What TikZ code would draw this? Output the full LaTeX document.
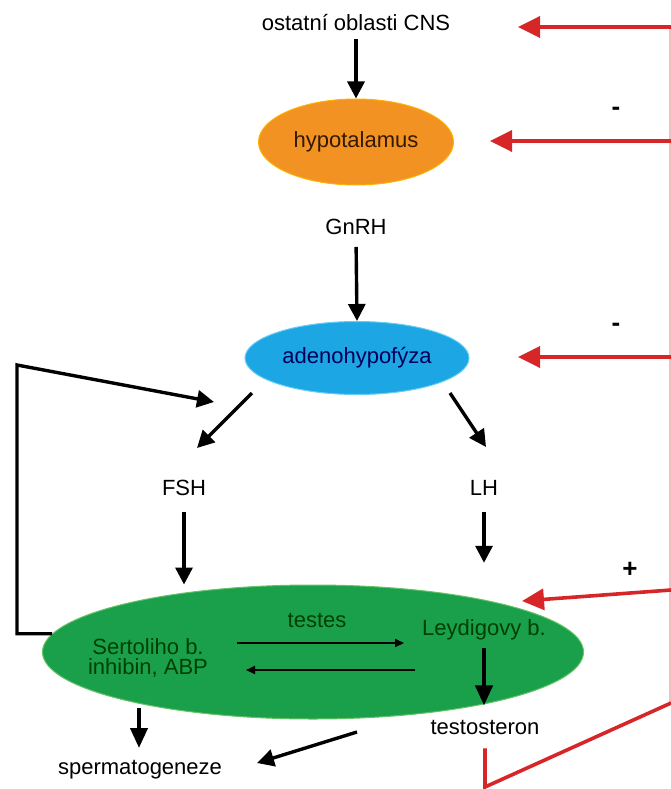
\documentclass[tikz,border=0pt]{standalone}
\usepackage{fontspec}
\setmainfont{Liberation Sans}
\usetikzlibrary{arrows.meta,shapes.geometric,positioning}

\definecolor{hypoorange}{RGB}{242,146,34}
\definecolor{adenoblue}{RGB}{28,166,228}
\definecolor{testgreen}{RGB}{26,160,74}
\definecolor{fbred}{RGB}{214,38,40}

\begin{document}
\begin{tikzpicture}[
    x=1pt,
    y=-1pt,
    every node/.style={font=\fontsize{22}{20}\selectfont, inner sep=2pt},
    organ/.style={ellipse, inner sep=0pt},
    sign/.style={font=\fontsize{26}{26}\selectfont\bfseries},
    arr/.style={-{Triangle[length=17pt,width=17pt]}, line width=3.4pt},
    fatarr/.style={-{Triangle[length=20pt,width=17pt]}, line width=4pt},
    thinarr/.style={-{Triangle[length=9pt,width=8pt]}, line width=1.8pt},
    redarr/.style={-{Triangle[length=22pt,width=21pt]}, draw=fbred, fill=fbred, line width=3.6pt},
    redline/.style={draw=fbred, line width=3.6pt}
  ]
    \useasboundingbox (0,0) rectangle (671,789);

    % organs and hormones
    \node (cns) at (356,23) {ostatní oblasti CNS};
    \node[organ, fill=hypoorange, draw=orange!60!yellow, line width=1pt,
      minimum width=195, minimum height=86, text=black!80!orange] (hypo) at (356,142) {hypotalamus};
    \node (gnrh) at (356,227) {GnRH};
    \node[organ, fill=adenoblue, draw=cyan!60, line width=1pt,
      minimum width=224, minimum height=73, text=blue!35!black] (adeno) at (357,358) {adenohypofýza};
    \node (fsh) at (184,488) {FSH};
    \node (lh) at (484,488) {LH};

    \node[organ, fill=testgreen, draw=green!60!black!60, line width=1pt,
      minimum width=541, minimum height=134] (testis) at (313,652) {};
    \node[text=green!25!black] (testes) at (317,620) {testes};
    \node[text=green!25!black, align=center] (sertoli) at (148,658) {Sertoliho b.\\inhibin, ABP};
    \node[text=green!25!black] (leydig) at (484,630) {Leydigovy b.};
    \node (testo) at (485,727) {testosteron};
    \node (sperm) at (140,770) {spermatogeneze};

    \node[sign] (minusa) at (616,111) {-};
    \node[sign] (minusb) at (616,327) {-};
    \node[sign] (plus) at (630,570) {+};

    % free ends
    \coordinate (fbcorner) at (17,365);
    \coordinate (fbtip) at (214,402);
    \coordinate (fshfrom) at (252,393);
    \coordinate (fshto) at (197,448);
    \coordinate (lhfrom) at (450,393);
    \coordinate (lhto) at (486,447);
    \coordinate (toright) at (404,643);
    \coordinate (fromright) at (415,670);
    \coordinate (toleft) at (246,670);
    \coordinate (fromleft) at (237,643);
    \coordinate (spermfrom) at (357,732);
    \coordinate (spermto) at (257,763);
    \coordinate (redbottom) at (485,787);
    \coordinate (rededge) at (671,703);
    \coordinate (redtop) at (670,27);
    \coordinate (redcns) at (671,27);
    \coordinate (redhypo) at (671,141);
    \coordinate (redadeno) at (671,357);
    \coordinate (redtestis) at (671,590);
    \coordinate (tipcns) at (518,27);
    \coordinate (tiphypo) at (490,141);
    \coordinate (tipadeno) at (518,357);
    \coordinate (tiptestis) at (522,601);

    % black connectors
    \draw[arr, shorten <=6pt] (cns.south) -- (hypo.north);
    \draw[arr, shorten <=10pt] (gnrh.south) -- (adeno.north);
    \draw[arr] (fshfrom) -- (fshto);
    \draw[arr] (lhfrom) -- (lhto);
    \draw[arr, shorten <=14pt] (fsh.south) -- (fsh |- testis.north);
    \draw[arr, shorten <=14pt] (lh.south) -- ++(0,65);
    \draw[arr] (testis.176) -| (fbcorner) -- (fbtip);
    \draw[thinarr] (fromleft) -- (toright);
    \draw[thinarr] (fromright) -- (toleft);
    \draw[fatarr, shorten <=6pt] (leydig.south) -- ++(0,63);
    \draw[fatarr] (139,708) -- (139,748);
    \draw[arr] (spermfrom) -- (spermto);

    % red feedback
    \draw[fbred!30, line width=1.5pt] (rededge -| redtop) -- (redtop);
    \draw[redline, line join=miter] ([yshift=-12pt]testo.south) -- (redbottom) -- (rededge);
    \draw[redarr] (redcns) -- (tipcns);
    \draw[redarr] (redhypo) -- (tiphypo);
    \draw[redarr] (redadeno) -- (tipadeno);
    \draw[redarr] (redtestis) -- (tiptestis);
  \end{tikzpicture}
\end{document}
